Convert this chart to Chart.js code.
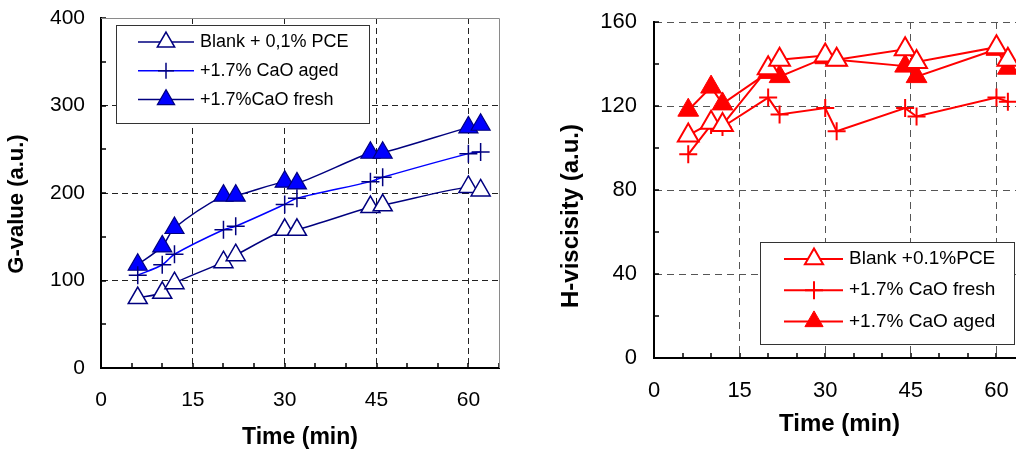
<!DOCTYPE html>
<html>
<head>
<meta charset="utf-8">
<script src="https://cdn.jsdelivr.net/npm/chart.js@4.4.1/dist/chart.umd.min.js"></script>
<style>
  html, body { margin: 0; padding: 0; background: #fff; overflow: hidden; width: 1016px; height: 451px; }
  .wrap { position: absolute; top: 0; width: 530px; height: 451px; }
  #wrapG { left: 0; }
  #wrapH { left: 540px; }
</style>
</head>
<body>
<div class="wrap" id="wrapG"><canvas id="gChart" width="530" height="451"></canvas></div>
<div class="wrap" id="wrapH"><canvas id="hChart" width="530" height="451"></canvas></div>
<script>
// values
const timeMin = [6, 10, 12, 20, 22, 30, 32, 44, 46, 60, 62];

const gBlank = [80, 86, 97, 121, 129, 158, 158, 184, 186, 207, 203];
const gAged  = [106, 118, 130, 158, 162, 187, 194, 213, 218, 245, 247];
const gFresh = [118, 139, 160, 197, 197, 213, 211, 246, 246, 275, 278];

const hBlank = [106, 112, 111, 138, 142, 144, 142, 147, 141, 148, 142];
const hFresh = [97, 111, 110, 124, 116, 119, 108, 119, 115, 124, 122];
const hAged  = [118, 129, 121, 136, 134, 143, 142, 139, 134, 147, 138];

const xTicks = [0, 15, 30, 45, 60];
const gTicks = [0, 100, 200, 300, 400];
const hTicks = [0, 40, 80, 120, 160];

Chart.defaults.font.family = '"Liberation Sans", Arial, sans-serif';
Chart.defaults.color = '#000';

const pts = ys => timeMin.map((t, i) => ({ x: t, y: ys[i] }));

// small inward tick marks on both axes
const innerTicks = {
  id: 'innerTicks',
  beforeDatasetsDraw(chart) {
    const { ctx, chartArea: a, scales } = chart;
    ctx.save();
    ctx.strokeStyle = '#000';
    ctx.lineWidth = 1.5;
    ctx.beginPath();
    scales.x.ticks.forEach(t => {
      const px = Math.round(scales.x.getPixelForValue(t.value));
      ctx.moveTo(px, a.bottom);
      ctx.lineTo(px, a.bottom - 5);
    });
    scales.y.ticks.forEach(t => {
      const py = Math.round(scales.y.getPixelForValue(t.value));
      ctx.moveTo(a.left, py);
      ctx.lineTo(a.left + 5, py);
    });
    ctx.stroke();
    ctx.restore();
  }
};

// thin grey frame on top and right (left chart only)
const frame = {
  id: 'frame',
  beforeDatasetsDraw(chart, args, opts) {
    if (!opts.show) return;
    const { ctx, chartArea: a } = chart;
    ctx.save();
    ctx.strokeStyle = '#8a8a8a';
    ctx.lineWidth = 1;
    ctx.beginPath();
    ctx.moveTo(a.left, a.top + 0.5);
    ctx.lineTo(a.right + 0.5, a.top + 0.5);
    ctx.lineTo(a.right + 0.5, a.bottom);
    ctx.stroke();
    ctx.restore();
  }
};

// rotated y title placed by hand
const yTitle = {
  id: 'yTitle',
  afterDraw(chart, args, opts) {
    const { ctx } = chart;
    ctx.save();
    ctx.translate(opts.x, opts.y);
    ctx.rotate(-Math.PI / 2);
    ctx.font = 'bold ' + opts.size + 'px "Liberation Sans", Arial, sans-serif';
    ctx.fillStyle = '#000';
    ctx.textAlign = 'center';
    ctx.textBaseline = 'middle';
    ctx.fillText(opts.text, 0, 0);
    ctx.restore();
  }
};

// boxed legend inside the plot
const boxLegend = {
  id: 'boxLegend',
  afterDatasetsDraw(chart, args, opts) {
    const { ctx, chartArea: a } = chart;
    const x0 = Math.round(a.left + opts.left), y0 = Math.round(a.top + opts.top);
    ctx.save();
    ctx.fillStyle = '#fff';
    ctx.fillRect(x0, y0, opts.width, opts.height);
    ctx.strokeStyle = '#333';
    ctx.lineWidth = 1;
    ctx.strokeRect(x0 + 0.5, y0 + 0.5, opts.width, opts.height);
    chart.data.datasets.forEach((ds, i) => {
      const y = y0 + opts.firstRow + i * opts.rowGap;
      ctx.strokeStyle = ds.borderColor;
      ctx.lineWidth = ds.borderWidth;
      ctx.beginPath();
      ctx.moveTo(x0 + opts.lineFrom, y);
      ctx.lineTo(x0 + opts.lineTo, y);
      ctx.stroke();
      ctx.fillStyle = ds.pointBackgroundColor;
      ctx.strokeStyle = ds.pointBorderColor;
      ctx.lineWidth = ds.pointBorderWidth;
      Chart.helpers.drawPoint(ctx, {
        pointStyle: ds.pointStyle, radius: opts.markerRadius[i],
        borderWidth: ds.pointBorderWidth, rotation: 0
      }, x0 + opts.markerX, y);
      ctx.fillStyle = '#000';
      ctx.font = opts.font;
      ctx.textAlign = 'left';
      ctx.textBaseline = 'middle';
      ctx.fillText(ds.label, x0 + opts.textX, y);
    });
    ctx.restore();
  }
};

function axes(cfg) {
  return {
    x: {
      type: 'linear', min: 0, max: 65,
      ticks: {
        stepSize: 5, autoSkip: false, maxRotation: 0, padding: cfg.xPad,
        font: { size: cfg.tickSize }, color: '#000',
        callback: v => xTicks.includes(v) ? v : ''
      },
      grid: {
        drawTicks: false, lineWidth: 1,
        color: c => (c.tick && c.tick.value > 0 && xTicks.includes(c.tick.value)) ? cfg.gridColor : 'rgba(0,0,0,0)'
      },
      border: { color: '#000', width: 2, dash: cfg.dash },
      title: {
        display: true, text: 'Time (min)',
        font: { size: cfg.titleSize, weight: 'bold' }, color: '#000',
        padding: { top: 0, bottom: cfg.xTitlePad }
      },
      afterFit: s => { s.height = cfg.xHeight; s.paddingLeft = 0; s.paddingRight = 0; }
    },
    y: {
      min: 0, max: cfg.yMax,
      ticks: {
        stepSize: cfg.yStep, autoSkip: false, padding: cfg.yPad,
        font: { size: cfg.tickSize }, color: '#000',
        callback: v => cfg.yTicks.includes(v) ? v : ''
      },
      grid: {
        drawTicks: false, lineWidth: 1,
        color: c => (c.tick && c.tick.value > 0 && c.tick.value !== cfg.skipGrid && cfg.yTicks.includes(c.tick.value)) ? cfg.gridColor : 'rgba(0,0,0,0)'
      },
      border: { color: '#000', width: 2, dash: cfg.dash },
      afterFit: s => { s.width = cfg.yWidth; s.paddingTop = 0; s.paddingBottom = 0; }
    }
  };
}

// G-value chart
const navy = '#00007f';
new Chart(document.getElementById('gChart'), {
  type: 'line',
  data: {
    datasets: [
      {
        label: 'Blank + 0,1% PCE', data: pts(gBlank),
        borderColor: navy, borderWidth: 1.5, tension: 0.3,
        pointStyle: 'triangle', pointRadius: 11,
        pointBackgroundColor: '#fff', pointBorderColor: navy, pointBorderWidth: 1.5
      },
      {
        label: '+1.7% CaO aged', data: pts(gAged),
        borderColor: '#0000ff', borderWidth: 1.5, tension: 0.3,
        pointStyle: 'cross', pointRadius: 9,
        pointBackgroundColor: navy, pointBorderColor: navy, pointBorderWidth: 1.5
      },
      {
        label: '+1.7%CaO fresh', data: pts(gFresh),
        borderColor: navy, borderWidth: 1.5, tension: 0.3,
        pointStyle: 'triangle', pointRadius: 11,
        pointBackgroundColor: '#0000ff', pointBorderColor: navy, pointBorderWidth: 1.2
      }
    ]
  },
  options: {
    responsive: false, animation: false,
    layout: { padding: { top: 18, right: 31, left: 0, bottom: 0 } },
    scales: axes({
      xPad: 20, xHeight: 83, xTitlePad: 0, yMax: 400, yStep: 50, yTicks: gTicks,
      yPad: 16, yWidth: 101, gridColor: '#222', dash: [6, 4], skipGrid: 400,
      tickSize: 21, titleSize: 23
    }),
    plugins: {
      legend: { display: false },
      tooltip: { enabled: false },
      frame: { show: true },
      yTitle: { text: 'G-value (a.u.)', x: 17, y: 204, size: 22 },
      boxLegend: {
        left: 15, top: 7, width: 253, height: 98,
        firstRow: 17, rowGap: 28.8, lineFrom: 22, lineTo: 78, markerX: 50, textX: 84,
        markerRadius: [10, 8, 10], font: '18px "Liberation Sans", Arial, sans-serif'
      }
    }
  },
  plugins: [innerTicks, frame, yTitle, boxLegend]
});

// H-viscosity chart
const red = '#ff0000';
new Chart(document.getElementById('hChart'), {
  type: 'line',
  data: {
    datasets: [
      {
        label: 'Blank +0.1%PCE', data: pts(hBlank),
        borderColor: red, borderWidth: 2, tension: 0,
        pointStyle: 'triangle', pointRadius: 12,
        pointBackgroundColor: '#fff', pointBorderColor: red, pointBorderWidth: 2
      },
      {
        label: '+1.7% CaO fresh', data: pts(hFresh),
        borderColor: red, borderWidth: 2, tension: 0,
        pointStyle: 'cross', pointRadius: 9,
        pointBackgroundColor: red, pointBorderColor: red, pointBorderWidth: 2
      },
      {
        label: '+1.7% CaO aged', data: pts(hAged),
        borderColor: red, borderWidth: 2, tension: 0,
        pointStyle: 'triangle', pointRadius: 12,
        pointBackgroundColor: red, pointBorderColor: red, pointBorderWidth: 1
      }
    ]
  },
  options: {
    responsive: false, animation: false,
    layout: { padding: { top: 22, right: 45, left: 0, bottom: 0 } },
    scales: axes({
      xPad: 20, xHeight: 93, xTitlePad: 12, yMax: 160, yStep: 20, yTicks: hTicks,
      yPad: 17, yWidth: 114, gridColor: '#555', dash: [7, 5], skipGrid: -1,
      tickSize: 22, titleSize: 24
    }),
    plugins: {
      legend: { display: false },
      tooltip: { enabled: false },
      frame: { show: false },
      yTitle: { text: 'H-viscisity (a.u.)', x: 31, y: 216, size: 24 },
      boxLegend: {
        left: 106, top: 220, width: 254, height: 102,
        firstRow: 17, rowGap: 31.2, lineFrom: 24, lineTo: 83, markerX: 54, textX: 89,
        markerRadius: [10.5, 9, 10.5], font: '19px "Liberation Sans", Arial, sans-serif'
      }
    }
  },
  plugins: [innerTicks, frame, yTitle, boxLegend]
});
</script>
</body>
</html>
